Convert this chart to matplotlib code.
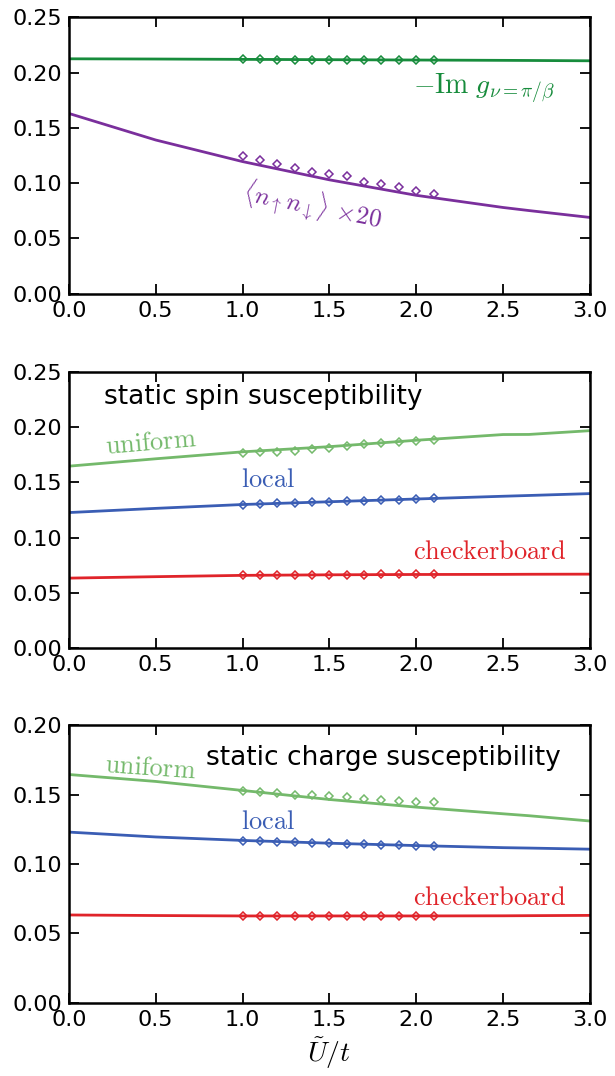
import matplotlib
matplotlib.use('Agg')
import matplotlib.pyplot as plt
import numpy as np

plt.rcParams['mathtext.fontset'] = 'cm'
plt.rcParams['font.family'] = 'DejaVu Sans'

# continuous curves (x grid) and discrete points
x_line = [0.0, 0.5, 1.0, 1.5, 2.0, 2.5, 2.65, 3.0]
x_pts = [1.0, 1.1, 1.2, 1.3, 1.4, 1.5, 1.6, 1.7, 1.8, 1.9, 2.0, 2.1]

# panel 1
img_g_line = [0.2124, 0.2122, 0.2119, 0.2116, 0.2113, 0.2110, 0.2109, 0.2106]
img_g_pts = [0.2118, 0.2118, 0.2117, 0.2117, 0.2116, 0.2116, 0.2115, 0.2115, 0.2114, 0.2114, 0.2113, 0.2112]
docc_line = [0.163, 0.139, 0.1195, 0.103, 0.089, 0.078, 0.0752, 0.069]
docc_pts = [0.1244, 0.121, 0.1175, 0.1136, 0.1102, 0.1084, 0.106, 0.1014, 0.0988, 0.0964, 0.0933, 0.0906]

# panel 2: static spin susceptibility
spin_uni_line = [0.1648, 0.1715, 0.1778, 0.1825, 0.1883, 0.1935, 0.1936, 0.197]
spin_uni_pts = [0.1769, 0.1775, 0.178, 0.179, 0.18, 0.1813, 0.1832, 0.1847, 0.1862, 0.1868, 0.1877, 0.1889]
spin_loc_line = [0.1227, 0.1265, 0.130, 0.1325, 0.135, 0.1375, 0.1382, 0.1399]
spin_loc_pts = [0.130, 0.1305, 0.131, 0.1316, 0.132, 0.1326, 0.133, 0.1335, 0.134, 0.1345, 0.135, 0.1355]
spin_chk_line = [0.0632, 0.0645, 0.0657, 0.0662, 0.0665, 0.0666, 0.0667, 0.0668]
spin_chk_pts = [0.0657, 0.0658, 0.0659, 0.066, 0.0661, 0.0662, 0.0663, 0.0664, 0.0665, 0.0665, 0.0666, 0.0666]

# panel 3: static charge susceptibility
chg_uni_line = [0.1645, 0.1595, 0.153, 0.1465, 0.141, 0.1362, 0.1348, 0.131]
chg_uni_pts = [0.1527, 0.152, 0.151, 0.150, 0.1494, 0.1491, 0.1482, 0.1467, 0.1462, 0.1457, 0.145, 0.1446]
chg_loc_line = [0.123, 0.1195, 0.117, 0.115, 0.1133, 0.1118, 0.1115, 0.1107]
chg_loc_pts = [0.1168, 0.1165, 0.116, 0.1157, 0.1153, 0.115, 0.1146, 0.1143, 0.114, 0.1136, 0.1132, 0.113]
chg_chk_line = [0.0633, 0.0629, 0.0626, 0.0626, 0.0626, 0.0627, 0.0628, 0.063]
chg_chk_pts = [0.0626] * 12

c_dgreen = '#178c3c'
c_purple = '#7a2f9c'
c_lgreen = '#74b96b'
c_blue = '#3a5db4'
c_red = '#e0242a'

fig = plt.figure(figsize=(6.15, 10.76), dpi=100)
left, width = 0.112, 0.847
ax1 = fig.add_axes([left, 0.727, width, 0.257])
ax2 = fig.add_axes([left, 0.398, width, 0.256])
ax3 = fig.add_axes([left, 0.068, width, 0.258])


def curve(ax, yl, yp, color):
    ax.plot(x_line, yl, '-', color=color, lw=2)
    ax.plot(x_pts, yp, 'D', color=color, mfc='none', mec=color, ms=4.3, mew=1.1)


def style(ax, ymax, step):
    ax.set_xlim(0, 3)
    ax.set_ylim(0, ymax)
    ax.set_xticks(np.arange(0, 3.01, 0.5))
    ax.set_yticks(np.arange(0, ymax + 1e-9, step))
    ax.xaxis.set_major_formatter(matplotlib.ticker.FormatStrFormatter('%.1f'))
    ax.yaxis.set_major_formatter(matplotlib.ticker.FormatStrFormatter('%.2f'))
    ax.tick_params(direction='in', length=7, width=1.3, top=True, right=True,
                   labelsize=16, pad=5)
    for s in ax.spines.values():
        s.set_linewidth(1.8)


curve(ax1, img_g_line, img_g_pts, c_dgreen)
curve(ax1, docc_line, docc_pts, c_purple)
style(ax1, 0.25, 0.05)
ax1.text(1.98, 0.186, r'$-\mathrm{Im}\ g_{\nu=\pi/\beta}$', color=c_dgreen,
         fontsize=20, va='center', ha='left')
ax1.text(1.40, 0.079, r'$\langle n_\uparrow n_\downarrow\rangle\,\times\!20$',
         color=c_purple, fontsize=18, va='center', ha='center', rotation=-11)

curve(ax2, spin_uni_line, spin_uni_pts, c_lgreen)
curve(ax2, spin_loc_line, spin_loc_pts, c_blue)
curve(ax2, spin_chk_line, spin_chk_pts, c_red)
style(ax2, 0.25, 0.05)
ax2.text(0.2, 0.228, 'static spin susceptibility', fontsize=19, va='center')
ax2.text(0.47, 0.186, r'$\mathrm{uniform}$', color=c_lgreen, fontsize=19,
         va='center', ha='center', rotation=5)
ax2.text(0.99, 0.152, r'$\mathrm{local}$', color=c_blue, fontsize=19, va='center')
ax2.text(1.98, 0.087, r'$\mathrm{checkerboard}$', color=c_red, fontsize=19, va='center')

curve(ax3, chg_uni_line, chg_uni_pts, c_lgreen)
curve(ax3, chg_loc_line, chg_loc_pts, c_blue)
curve(ax3, chg_chk_line, chg_chk_pts, c_red)
style(ax3, 0.20, 0.05)
ax3.text(0.79, 0.1766, 'static charge susceptibility', fontsize=19, va='center')
ax3.text(0.47, 0.169, r'$\mathrm{uniform}$', color=c_lgreen, fontsize=19,
         va='center', ha='center', rotation=-4)
ax3.text(0.99, 0.1306, r'$\mathrm{local}$', color=c_blue, fontsize=19, va='center')
ax3.text(1.98, 0.0753, r'$\mathrm{checkerboard}$', color=c_red, fontsize=19, va='center')
ax3.set_xlabel(r'$\tilde{U}/t$', fontsize=20, labelpad=4)

fig.savefig('out.png', dpi=100)
